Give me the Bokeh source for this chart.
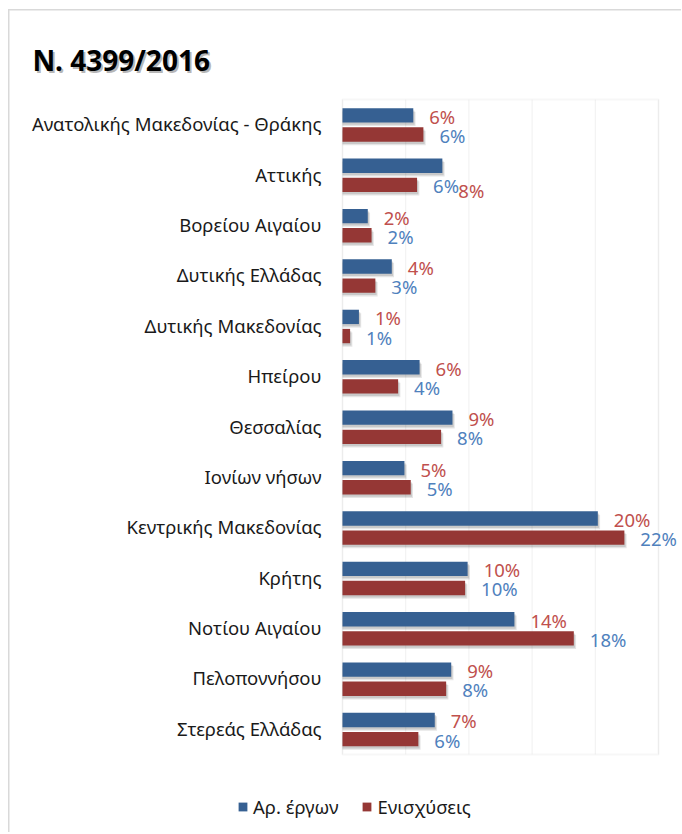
from bokeh.plotting import figure
from bokeh.models import (ColumnDataSource, Range1d, Label, Legend,
                          LegendItem, BoxAnnotation)
from bokeh.transform import dodge
from bokeh.core.properties import value
from bokeh.embed import file_html
from bokeh.resources import INLINE

# ---------------- data ----------------
regions = [
    "Ανατολικής Μακεδονίας - Θράκης",
    "Αττικής",
    "Βορείου Αιγαίου",
    "Δυτικής Ελλάδας",
    "Δυτικής Μακεδονίας",
    "Ηπείρου",
    "Θεσσαλίας",
    "Ιονίων νήσων",
    "Κεντρικής Μακεδονίας",
    "Κρήτης",
    "Νοτίου Αιγαίου",
    "Πελοποννήσου",
    "Στερεάς Ελλάδας",
]
projects = [5.6, 7.9, 2.0, 3.9, 1.3, 6.1, 8.7, 4.9, 20.2, 9.9, 13.6, 8.6, 7.3]   # Αρ. έργων (%)
grants = [6.4, 5.9, 2.3, 2.6, 0.6, 4.4, 7.8, 5.4, 22.3, 9.7, 18.3, 8.2, 6.0]     # Ενισχύσεις (%)
series_names = ["Αρ. έργων", "Ενισχύσεις"]
title_text = "Ν. 4399/2016"
x_ticks = [0, 5, 10, 15, 20, 25]

# ---------------- layout / styling ----------------
BLUE_BAR = "#366092"
RED_BAR = "#953735"
BLUE_TXT = "#4F81BD"
RED_TXT = "#C0504D"
FONT = "Noto Sans"

W, H = 681, 832              # canvas (= frame) size in px
PLOT_LEFT, PLOT_TOP = 342, 99  # px position of the plot area
PLOT_W, PLOT_H = 316, 655
X_AXIS_MAX = 25
n = len(regions)
PX_X = PLOT_W / X_AXIS_MAX     # px per percent
PX_Y = PLOT_H / n              # px per category row

x_start = -PLOT_LEFT / PX_X
x_end = (W - PLOT_LEFT) / PX_X
y_top = -0.5 - PLOT_TOP / PX_Y
y_bottom = -0.5 + (H - PLOT_TOP) / PX_Y

idx = list(range(n))
blue_off, red_off, bar_h = -0.185, 0.195, 0.285
y_blue = [i + blue_off for i in idx]
y_red = [i + red_off for i in idx]

lab_y_blue = list(y_blue)
lab_yoff_blue = [1] * n
att = regions.index("Αττικής")
lab_y_blue[att] = y_red[att]
lab_yoff_blue[att] = 5.5

src = ColumnDataSource(dict(
    y_blue=y_blue, y_red=y_red, projects=projects, grants=grants,
    lab_y_blue=lab_y_blue, lab_yoff_blue=lab_yoff_blue,
    txt_blue=["{:.0f}%".format(v) for v in projects],
    txt_red=["{:.0f}%".format(v) for v in grants],
))
cat_src = ColumnDataSource(dict(y=idx, name=regions, x=[0] * n))

border_css = {
    "background-image": "linear-gradient(#d9d9d9, #d9d9d9), linear-gradient(#d9d9d9, #d9d9d9)",
    "background-size": "100% 1.5px, 1.5px 100%",
    "background-position": "8px 9px, 8px 9px",
    "background-repeat": "no-repeat",
}

p = figure(frame_width=W, frame_height=H,
           min_border_left=0, min_border_right=0,
           min_border_top=0, min_border_bottom=0,
           x_range=Range1d(x_start, x_end),
           y_range=Range1d(y_bottom, y_top),
           x_axis_location=None, y_axis_location=None,
           output_backend="svg", toolbar_location=None,
           styles=border_css)
p.border_fill_alpha = 0
p.background_fill_alpha = 0
p.outline_line_color = None
p.xgrid.visible = False
p.ygrid.visible = False

# plot area border and vertical grid lines at the tick values
p.add_layout(BoxAnnotation(left=0, right=X_AXIS_MAX, top=-0.5, bottom=n - 0.5,
                           fill_alpha=0, line_color="#e6e6e6", line_width=2,
                           level="underlay"))
p.segment(x0=x_ticks, x1=x_ticks, y0=[-0.5] * len(x_ticks),
          y1=[n - 0.5] * len(x_ticks), line_color="#f0f0f0", line_width=1,
          level="underlay")

# category labels
p.text(x="x", y="y", text="name", source=cat_src, x_offset=-21, y_offset=-1,
       text_align="right", text_baseline="middle",
       text_font=value(FONT), text_font_size="18.5px", text_color="#1a1a1a")

# shadows
for yf, xf in (("y_blue", "projects"), ("y_red", "grants")):
    p.hbar(y=dodge(yf, 0.07), left=0, right=dodge(xf, 0.18), height=bar_h,
           source=src, fill_color="black", fill_alpha=0.10, line_color=None)
    p.hbar(y=dodge(yf, 0.045), left=0, right=dodge(xf, 0.1), height=bar_h,
           source=src, fill_color="black", fill_alpha=0.12, line_color=None)

r_blue = p.hbar(y="y_blue", left=0, right="projects", height=bar_h, source=src,
                fill_color=BLUE_BAR, line_color=None)
r_red = p.hbar(y="y_red", left=0, right="grants", height=bar_h, source=src,
               fill_color=RED_BAR, line_color=None)

# data labels (colours as in the original)
p.text(x="projects", y="lab_y_blue", text="txt_blue", source=src,
       x_offset=16, y_offset="lab_yoff_blue", text_baseline="middle",
       text_font=value(FONT), text_font_size="18.5px", text_color=RED_TXT)
p.text(x="grants", y="y_red", text="txt_red", source=src,
       x_offset=16, y_offset=1, text_baseline="middle",
       text_font=value(FONT), text_font_size="18.5px", text_color=BLUE_TXT)

# title with a soft shadow
tx = (32 - PLOT_LEFT) / PX_X
ty = -0.5 - (PLOT_TOP - 59.5) / PX_Y
p.add_layout(Label(x=tx + 2 / PX_X, y=ty + 2 / PX_Y, text=title_text,
                   text_font=FONT, text_font_style="bold", text_font_size="28px",
                   text_color="#000000", text_alpha=0.28,
                   text_baseline="alphabetic"))
p.add_layout(Label(x=tx, y=ty, text=title_text,
                   text_font=FONT, text_font_style="bold", text_font_size="28px",
                   text_color="#000000", text_baseline="alphabetic"))

# legend
legend = Legend(items=[LegendItem(label=series_names[0], renderers=[r_blue]),
                       LegendItem(label=series_names[1], renderers=[r_red])],
                orientation="horizontal", location=(237, 13),
                glyph_width=11, glyph_height=11, label_standoff=5, spacing=23,
                padding=0, margin=0, border_line_color=None,
                background_fill_alpha=0, label_text_font=FONT,
                label_text_font_size="18.5px", label_text_color="#1a1a1a")
p.add_layout(legend, "center")

open("out.html", "w").write(file_html(p, INLINE))
